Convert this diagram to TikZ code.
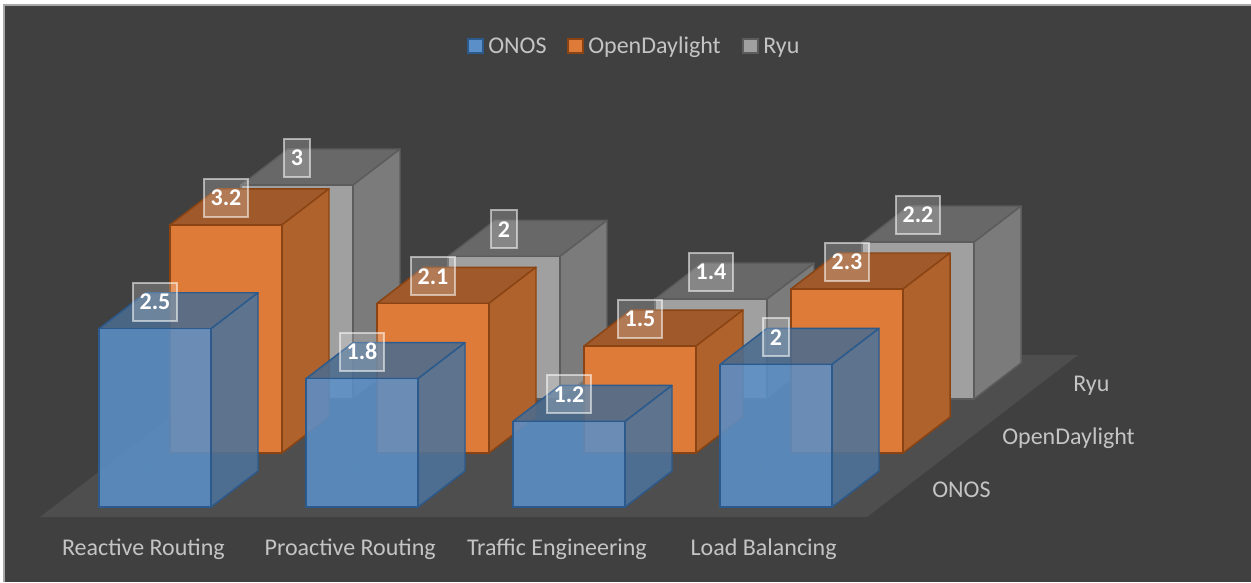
\documentclass[tikz,border=0pt]{standalone}
\usepackage{fontspec}
\setmainfont{Carlito}
\usetikzlibrary{positioning}

\definecolor{chartbg}{HTML}{404040}
\definecolor{floorgray}{HTML}{4F4E4F}
\definecolor{framegray}{HTML}{A8A8A8}
\definecolor{axistext}{HTML}{C4C4C4}
\definecolor{onosF}{HTML}{5B8FC7}
\definecolor{onosS}{HTML}{4D7399}
\definecolor{onosT}{HTML}{4B6C8F}
\definecolor{onosE}{HTML}{2C5A8C}
\definecolor{odlF}{HTML}{DF7B38}
\definecolor{odlS}{HTML}{B0622C}
\definecolor{odlT}{HTML}{9F592B}
\definecolor{odlE}{HTML}{8A4413}
\definecolor{ryuF}{HTML}{A0A0A0}
\definecolor{ryuS}{HTML}{7B7B7B}
\definecolor{ryuT}{HTML}{686868}
\definecolor{ryuE}{HTML}{5C5C5C}

\newcommand{\chartfont}{\fontsize{18}{21}\selectfont}

\tikzset{
  barline/.style={line width=1.1pt, line join=round},
  onos front/.style={barline, draw=onosE, fill=onosF, fill opacity=0.88},
  onos side/.style={barline, draw=onosE, fill=onosS, fill opacity=0.88},
  onos top/.style={barline, draw=onosE, fill=onosT, fill opacity=0.88},
  onos hidden/.style={barline, draw=onosE, draw opacity=0.4},
  odl front/.style={barline, draw=odlE, fill=odlF},
  odl side/.style={barline, draw=odlE, fill=odlS},
  odl top/.style={barline, draw=odlE, fill=odlT},
  odl hidden/.style={draw=none},
  ryu front/.style={barline, draw=ryuE, fill=ryuF},
  ryu side/.style={barline, draw=ryuE, fill=ryuS},
  ryu top/.style={barline, draw=ryuE, fill=ryuT},
  ryu hidden/.style={draw=none},
  vallabel/.style={font=\chartfont\bfseries, text=white, fill=white, fill opacity=0.2,
    text opacity=1, draw=white, draw opacity=0.55, line width=1.5pt,
    minimum height=28.5pt, inner xsep=5pt},
  axislabel/.style={font=\chartfont, text=axistext, inner sep=0pt},
  legendkey/.style={minimum size=11pt, inner sep=0pt, line width=1.4pt}
}

% one bar: category, row, value, series
\newcommand{\drawbar}[4]{%
  \pgfmathsetmacro{\bx}{99+207*#1+71*#2}
  \pgfmathsetmacro{\by}{507-54*#2}
  \pgfmathsetmacro{\bt}{\by-71.3*#3}
  \draw[#4 hidden] (\bx,\by) -- (\bx+47,\by-36) -- (\bx+159,\by-36)
    (\bx+47,\by-36) -- (\bx+47,\bt-36);
  \filldraw[#4 top] (\bx,\bt) -- (\bx+47,\bt-36) -- (\bx+159,\bt-36) -- (\bx+112,\bt) -- cycle;
  \filldraw[#4 side] (\bx+112,\by) -- (\bx+159,\by-36) -- (\bx+159,\bt-36) -- (\bx+112,\bt) -- cycle;
  \filldraw[#4 front] (\bx,\by) rectangle (\bx+112,\bt);
  \node[vallabel] (l-#4-#1) at (\bx+56,\bt-27) {#3};
}

\begin{document}
\begin{tikzpicture}[x=0.75pt, y=-0.75pt]
\useasboundingbox (0,0) rectangle (1251,582);

% Background
\fill[white] (0,0) rectangle (1251,582);
\fill[chartbg] (4,5) rectangle (1251,582);
\draw[framegray, line width=1pt] (4,582) -- (4,5) -- (1251,5);

% Floor
\fill[floorgray] (40,517) -- (867,517) -- (1078,355) -- (251,355) -- cycle;

% Bars, back row first
\foreach \s/\r/\vals in {ryu/2/{3,2,1.4,2.2}, odl/1/{3.2,2.1,1.5,2.3}, onos/0/{2.5,1.8,1.2,2}} {
  \foreach \v [count=\c from 0] in \vals {
    \drawbar{\c}{\r}{\v}{\s}
  }
}

% Category labels
\foreach \t [count=\c from 0] in {Reactive Routing, Proactive Routing, Traffic Engineering, Load Balancing} {
  \node[axislabel, anchor=base] (cat-\c) at (143.4+206.75*\c,555) {\t};
}

% Series labels
\node[axislabel, anchor=base west] (row-ryu) at (1073,391) {Ryu};
\node[axislabel, anchor=base west] (row-odl) at (1002,444) {OpenDaylight};
\node[axislabel, anchor=base west] (row-onos) at (932,497) {ONOS};

% Legend
\node[legendkey, fill=onosF, draw=onosE] (key-onos) at (475.5,46) {};
\node[axislabel, anchor=base west] (leg-onos) at (488,53) {ONOS};
\node[legendkey, fill=odlF, draw=odlE] (key-odl) at (575.5,46) {};
\node[axislabel, anchor=base west] (leg-odl) at (588,53) {OpenDaylight};
\node[legendkey, fill=ryuF, draw=ryuE] (key-ryu) at (750.5,46) {};
\node[axislabel, anchor=base west] (leg-ryu) at (763,53) {Ryu};
\end{tikzpicture}
\end{document}
